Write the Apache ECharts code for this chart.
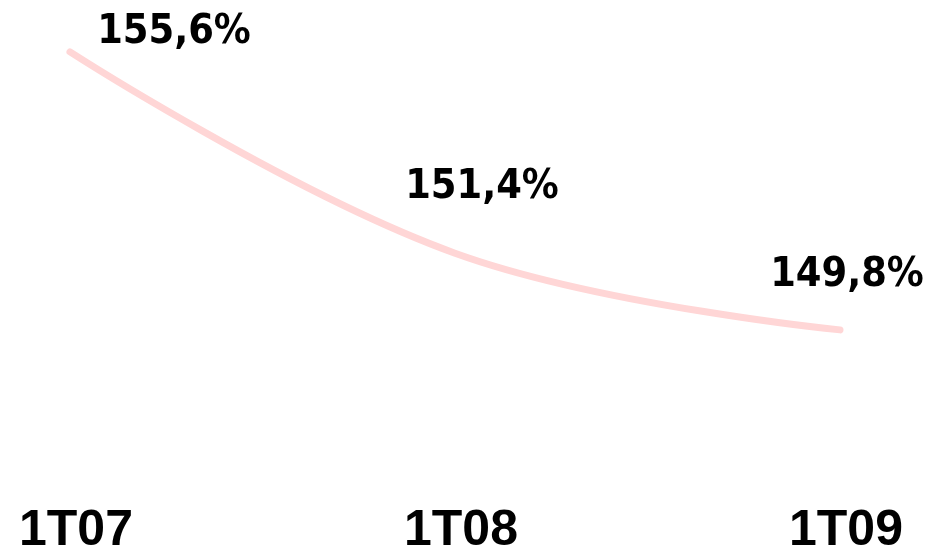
<!DOCTYPE html>
<html>
<head>
<meta charset="utf-8">
<script src="https://cdn.jsdelivr.net/npm/echarts@6/dist/echarts.min.js"></script>
<style>
  html, body { margin: 0; padding: 0; background: #fff; }
  #chart { width: 927px; height: 555px; }
</style>
</head>
<body>
<div id="chart"></div>
<script>
const categories = ["1T07", "1T08", "1T09"];
const values = [155.6, 151.4, 149.8];
const valueLabels = ["155,6%", "151,4%", "149,8%"];
// label offsets from each point
const labelOffsets = [[104, -20], [27, -66], [7, -55]];

const myChart = echarts.init(document.getElementById("chart"));

const data = values.map((v, i) => ({
  value: v,
  label: {
    formatter: valueLabels[i],
    offset: labelOffsets[i]
  }
}));

myChart.setOption({
  animation: false,
  grid: { left: 70, right: 87, top: 4, bottom: 43, outerBoundsMode: "none" },
  xAxis: {
    type: "category",
    data: categories,
    boundaryGap: false,
    axisLine: { show: false },
    axisTick: { show: false },
    axisLabel: {
      margin: -6,
      padding: [0, 0, 0, 12],
      verticalAlign: "top",
      color: "#000",
      fontFamily: "Liberation Sans",
      fontWeight: "bold",
      fontSize: 50
    }
  },
  yAxis: {
    type: "value",
    min: 146,
    max: 156.6,
    show: false
  },
  series: [
    {
      type: "line",
      data: data,
      smooth: 0.4,
      symbol: "circle",
      symbolSize: 0,
      lineStyle: { color: "#ffd6d6", width: 7, cap: "round" },
      label: {
        show: true,
        position: "inside",
        align: "center",
        verticalAlign: "middle",
        color: "#000",
        fontFamily: "DejaVu Sans Condensed",
        fontWeight: "bold",
        fontSize: 41
      }
    }
  ]
});
</script>
</body>
</html>
